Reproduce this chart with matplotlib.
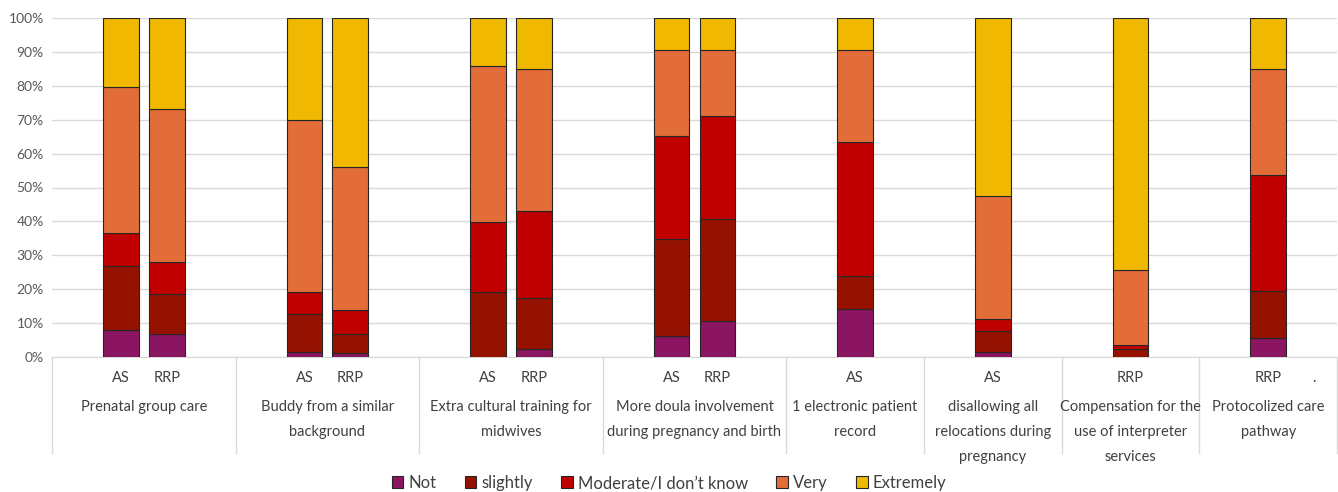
import numpy as np
import matplotlib
matplotlib.use("Agg")
import matplotlib.pyplot as plt
from matplotlib.transforms import blended_transform_factory

plt.rcParams['font.family'] = ['Lato', 'DejaVu Sans']

# category slots as in the source sheet (blank slots keep the spacing)
sub_labels = ["", "AS", "RRP", "",
              "", "AS", "RRP", "",
              "", "AS", "RRP", "",
              "", "AS", "RRP", "",
              "", "AS", "",
              "", "AS", "",
              "", "RRP", "",
              "", "RRP", "."]

group_labels = ["Prenatal group care",
                "Buddy from a similar\nbackground",
                "Extra cultural training for\nmidwives",
                "More doula involvement\nduring pregnancy and birth",
                "1 electronic patient\nrecord",
                "disallowing all\nrelocations during\npregnancy",
                "Compensation for the\nuse of interpreter\nservices",
                "Protocolized care\npathway"]
group_sizes = [4, 4, 4, 4, 3, 3, 3, 3]

# percentages per bar (12 bars, left to right)
not_vals = [7.9, 6.9, 1.6, 1.2, 0.0, 2.3, 6.3, 10.5, 14.3, 1.6, 0.0, 5.7]
slightly = [19.0, 11.6, 11.1, 5.7, 19.1, 15.2, 28.6, 30.2, 9.5, 6.2, 2.5, 13.9]
moderate = [9.6, 9.4, 6.4, 7.1, 20.7, 25.6, 30.3, 30.3, 39.7, 3.3, 1.0, 34.0]
very = [43.0, 45.4, 50.8, 41.9, 46.1, 41.9, 25.4, 19.7, 27.0, 36.5, 22.1, 31.3]
extremely = [20.5, 26.7, 30.1, 44.1, 14.1, 15.0, 9.4, 9.3, 9.5, 52.4, 74.4, 15.1]

series_names = ["Not", "slightly", "Moderate/I don\u2019t know", "Very", "Extremely"]
colors = ["#8B1560", "#951200", "#C00000", "#E26D38", "#F0B800"]

bar_pos = [i for i, l in enumerate(sub_labels) if l in ("AS", "RRP")]

fig = plt.figure(figsize=(13.38, 4.92), dpi=100)
ax = fig.add_axes([52 / 1338, 1 - 357 / 492, 1285 / 1338, 339 / 492])

bottom = np.zeros(len(bar_pos))
for name, vals, c in zip(series_names, [not_vals, slightly, moderate, very, extremely], colors):
    vals = np.array(vals)
    ax.bar(bar_pos, vals, bottom=bottom, width=0.78, color=c,
           edgecolor="#262626", linewidth=0.8, label=name, zorder=3)
    bottom += vals

ax.set_xlim(-0.5, len(sub_labels) - 0.5)
ax.set_ylim(0, 100)
ax.set_yticks(range(0, 101, 10))
ax.set_yticklabels([f"{v}%" for v in range(0, 101, 10)], fontsize=10, color="#595959")
ax.grid(axis="y", color="#D9D9D9", linewidth=1, zorder=0)
ax.tick_params(length=0)
ax.tick_params(axis="y", pad=6)
for s in ["top", "right", "left"]:
    ax.spines[s].set_visible(False)
ax.spines["bottom"].set_color("#D9D9D9")

ax.set_xticks(range(len(sub_labels)))
ax.set_xticklabels(sub_labels, fontsize=10.5, color="#404040")
ax.tick_params(axis="x", pad=10)

# group separators and group labels
tr = blended_transform_factory(ax.transData, ax.transAxes)
edges = np.concatenate([[0], np.cumsum(group_sizes)]) - 0.5
for e in edges:
    ax.plot([e, e], [0, -0.283], transform=tr, color="#D9D9D9", lw=1, clip_on=False)
for i, lab in enumerate(group_labels):
    mid = (edges[i] + edges[i + 1]) / 2
    ax.text(mid, -0.128, lab, transform=tr, ha="center", va="top",
            fontsize=10.5, color="#404040", linespacing=2.0)

fig.legend(loc="center", bbox_to_anchor=(0.5, 0.018), ncol=5, frameon=False,
           fontsize=12, handlelength=0.7, handleheight=0.7, handletextpad=0.3,
           columnspacing=1.7, labelcolor="#404040")

fig.savefig("out.png", dpi=100)
